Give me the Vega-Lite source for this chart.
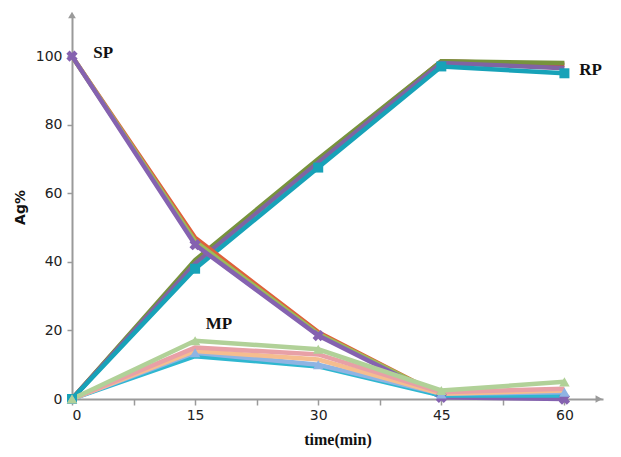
{
  "$schema": "https://vega.github.io/schema/vega-lite/v6.json",
  "autosize": {"type": "none"},
  "padding": {"left": 72, "top": 15, "right": 16, "bottom": 58},
  "width": 531,
  "height": 384,
  "background": "white",
  "config": {"view": {"stroke": null}},
  "datasets": {
    "series": [
      {"series": "RP red", "t": 0, "ag": 0}, {"series": "RP red", "t": 15, "ag": 40}, {"series": "RP red", "t": 30, "ag": 69.5}, {"series": "RP red", "t": 45, "ag": 98.5}, {"series": "RP red", "t": 60, "ag": 97.5},
      {"series": "RP green", "t": 0, "ag": 0}, {"series": "RP green", "t": 15, "ag": 40.5}, {"series": "RP green", "t": 30, "ag": 70}, {"series": "RP green", "t": 45, "ag": 98.5}, {"series": "RP green", "t": 60, "ag": 98},
      {"series": "RP purple", "t": 0, "ag": 0}, {"series": "RP purple", "t": 15, "ag": 39.5}, {"series": "RP purple", "t": 30, "ag": 69}, {"series": "RP purple", "t": 45, "ag": 98}, {"series": "RP purple", "t": 60, "ag": 96.5},
      {"series": "RP teal", "t": 0, "ag": 0}, {"series": "RP teal", "t": 15, "ag": 38}, {"series": "RP teal", "t": 30, "ag": 67.5}, {"series": "RP teal", "t": 45, "ag": 97}, {"series": "RP teal", "t": 60, "ag": 95},
      {"series": "SP red", "t": 0, "ag": 100}, {"series": "SP red", "t": 15, "ag": 47}, {"series": "SP red", "t": 30, "ag": 19.5}, {"series": "SP red", "t": 45, "ag": 1}, {"series": "SP red", "t": 60, "ag": 0.5},
      {"series": "SP green", "t": 0, "ag": 100}, {"series": "SP green", "t": 15, "ag": 46}, {"series": "SP green", "t": 30, "ag": 19}, {"series": "SP green", "t": 45, "ag": 1}, {"series": "SP green", "t": 60, "ag": 0.5},
      {"series": "SP purple", "t": 0, "ag": 100}, {"series": "SP purple", "t": 15, "ag": 45}, {"series": "SP purple", "t": 30, "ag": 18.5}, {"series": "SP purple", "t": 45, "ag": 0.5}, {"series": "SP purple", "t": 60, "ag": 0},
      {"series": "MP teal", "t": 0, "ag": 0}, {"series": "MP teal", "t": 15, "ag": 12.5}, {"series": "MP teal", "t": 30, "ag": 9.5}, {"series": "MP teal", "t": 45, "ag": 1}, {"series": "MP teal", "t": 60, "ag": 1},
      {"series": "MP blue", "t": 0, "ag": 0}, {"series": "MP blue", "t": 15, "ag": 13.5}, {"series": "MP blue", "t": 30, "ag": 10}, {"series": "MP blue", "t": 45, "ag": 1.5}, {"series": "MP blue", "t": 60, "ag": 2},
      {"series": "MP orange", "t": 0, "ag": 0}, {"series": "MP orange", "t": 15, "ag": 14}, {"series": "MP orange", "t": 30, "ag": 11.5}, {"series": "MP orange", "t": 45, "ag": 1.5}, {"series": "MP orange", "t": 60, "ag": 2.5},
      {"series": "MP pink", "t": 0, "ag": 0}, {"series": "MP pink", "t": 15, "ag": 15}, {"series": "MP pink", "t": 30, "ag": 13}, {"series": "MP pink", "t": 45, "ag": 2}, {"series": "MP pink", "t": 60, "ag": 3},
      {"series": "MP green", "t": 0, "ag": 0}, {"series": "MP green", "t": 15, "ag": 17}, {"series": "MP green", "t": 30, "ag": 14.5}, {"series": "MP green", "t": 45, "ag": 2.5}, {"series": "MP green", "t": 60, "ag": 5}
    ],
    "labels": [
      {"label": "SP", "t": 2.6, "ag": 100.8},
      {"label": "RP", "t": 61.8, "ag": 96},
      {"label": "MP", "t": 16.3, "ag": 22}
    ],
    "arrows": [
      {"t": 0, "ag": 112, "dir": "up"},
      {"t": 64.2, "ag": 0, "dir": "right"}
    ]
  },
  "encoding": {
    "x": {
      "field": "t", "type": "quantitative",
      "scale": {"domain": [0, 64.7], "nice": false},
      "axis": {
        "title": "time(min)",
        "titleFont": "Liberation Serif", "titleFontSize": 16, "titleFontWeight": "bold", "titleColor": "#111",
        "titlePadding": 9,
        "values": [0, 7.5, 15, 22.5, 30, 37.5, 45, 52.5, 60],
        "labelExpr": "datum.value % 15 === 0 ? datum.label : ''",
        "labelFont": "DejaVu Sans", "labelFontSize": 14, "labelColor": "#222", "labelPadding": 3,
        "domainColor": "#9a9a9a", "domainWidth": 2,
        "tickColor": "#9a9a9a", "tickSize": 6, "tickWidth": 1.5,
        "grid": false
      }
    },
    "y": {
      "field": "ag", "type": "quantitative",
      "scale": {"domain": [0, 112], "nice": false},
      "axis": {
        "title": "Ag%",
        "titleFont": "DejaVu Sans", "titleFontSize": 14, "titleFontWeight": "bold", "titleColor": "#111",
        "titlePadding": 8,
        "values": [0, 20, 40, 60, 80, 100],
        "labelFont": "DejaVu Sans", "labelFontSize": 14, "labelColor": "#222", "labelPadding": 5,
        "domainColor": "#9a9a9a", "domainWidth": 2,
        "tickColor": "#9a9a9a", "tickSize": 5, "tickWidth": 1.5,
        "grid": false
      }
    }
  },
  "layer": [
    {
      "data": {"name": "series"},
      "mark": {"type": "line", "strokeWidth": 4.5},
      "encoding": {
        "color": {
          "field": "series", "type": "nominal", "legend": null,
          "scale": {
            "domain": ["RP red", "RP green", "RP purple", "RP teal", "SP red", "SP green", "SP purple", "MP teal", "MP blue", "MP orange", "MP pink", "MP green"],
            "range": ["#c0504d", "#77933c", "#8064a2", "#17a2b8", "#e0603a", "#9bbb59", "#8562b0", "#2fb7d0", "#8fb4e3", "#f5bd8f", "#e8a0a6", "#b1d198"]
          }
        },
        "order": {"value": 0}
      }
    },
    {
      "data": {"name": "series"},
      "transform": [{"filter": {"field": "series", "equal": "RP teal"}}],
      "mark": {"type": "point", "shape": "square", "filled": true, "size": 100, "color": "#17a2b8", "opacity": 1}
    },
    {
      "data": {"name": "series"},
      "transform": [{"filter": {"field": "series", "equal": "SP purple"}}],
      "mark": {"type": "point", "shape": "cross", "angle": 45, "filled": true, "size": 130, "color": "#8562b0", "opacity": 1}
    },
    {
      "data": {"name": "series"},
      "transform": [{"filter": {"field": "series", "oneOf": ["MP green", "MP blue"]}}],
      "mark": {"type": "point", "shape": "triangle-up", "filled": true, "size": 110, "opacity": 1},
      "encoding": {
        "color": {
          "field": "series", "type": "nominal", "legend": null
        }
      }
    },
    {
      "data": {"name": "labels"},
      "mark": {"type": "text", "font": "Liberation Serif", "fontSize": 17, "fontWeight": "bold", "align": "left", "baseline": "middle", "color": "#111"},
      "encoding": {"text": {"field": "label"}}
    },
    {
      "data": {"name": "arrows"},
      "transform": [{"filter": "datum.dir === 'up'"}],
      "mark": {"type": "point", "shape": "triangle-up", "filled": true, "size": 60, "color": "#9a9a9a", "opacity": 1}
    },
    {
      "data": {"name": "arrows"},
      "transform": [{"filter": "datum.dir === 'right'"}],
      "mark": {"type": "point", "shape": "triangle-right", "filled": true, "size": 60, "color": "#9a9a9a", "opacity": 1}
    }
  ]
}
